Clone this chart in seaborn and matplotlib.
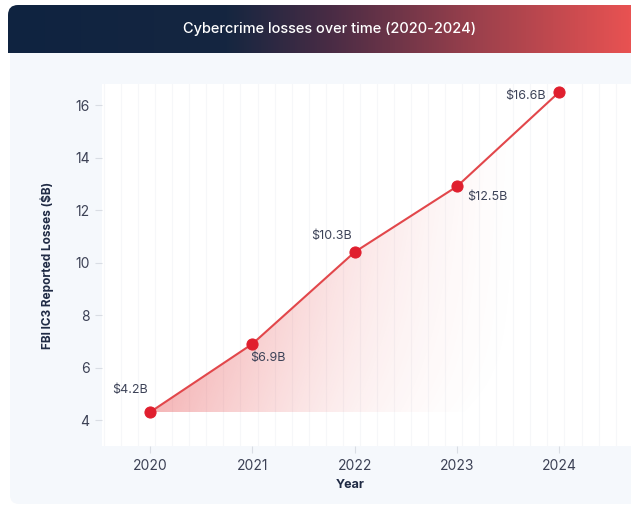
import numpy as np
import pandas as pd
import matplotlib
matplotlib.use("Agg")
import matplotlib.pyplot as plt
import seaborn as sns
from matplotlib.patches import FancyBboxPatch, Polygon
from matplotlib.colors import LinearSegmentedColormap

# ---- data ----
years = [2020, 2021, 2022, 2023, 2024]
losses = [4.3, 6.9, 10.4, 12.9, 16.5]
value_labels = ["$4.2B", "$6.9B", "$10.3B", "$12.5B", "$16.6B"]
yticks = [4, 6, 8, 10, 12, 14, 16]
title = "Cybercrime losses over time (2020-2024)"
xlabel = "Year"
ylabel = "FBI IC3 Reported Losses ($B)"

sns.set_theme(style="white")
plt.rcParams["font.family"] = ["Inter", "DejaVu Sans"]

W, H = 631, 507
fig = plt.figure(figsize=(W / 100, H / 100), dpi=100)
fig.patch.set_facecolor("white")

# background layer in pixel coordinates
bg = fig.add_axes([0, 0, 1, 1], zorder=0)
bg.set_xlim(0, W)
bg.set_ylim(H, 0)
bg.axis("off")
panel = FancyBboxPatch((10, 5), 700, 499, boxstyle="round,pad=0,rounding_size=9",
                       fc="#f5f8fc", ec="none")
bg.add_patch(panel)
clip = FancyBboxPatch((8, 5), 700, 80, boxstyle="round,pad=0,rounding_size=10",
                      fc="none", ec="none")
bg.add_patch(clip)
bcmap = LinearSegmentedColormap.from_list(
    "banner", [(0, "#0f2340"), (0.35, "#152640"), (0.52, "#4a2c45"),
               (0.75, "#9a404c"), (1, "#e85252")])
grad = np.linspace(0, 1, 512).reshape(1, -1)
im = bg.imshow(grad, cmap=bcmap, extent=(8, W, 53, 5), aspect="auto", zorder=1)
im.set_clip_path(clip)
bg.text(330, 29, title, color="white", fontsize=10.5, fontweight="medium",
        ha="center", va="center", zorder=2)

# main plot
left, right, top, bottom = 102, 631, 84, 446
ax = fig.add_axes([left / W, (H - bottom) / H, (right - left) / W, (bottom - top) / H], zorder=1)
ax.set_facecolor("white")
xlim = (2019.53, 2024.70)
ylim = (3.01, 16.8)
ax.set_xlim(*xlim)
ax.set_ylim(*ylim)

# faint vertical grid
ax.set_xticks(np.arange(2019.55, 2024.75, 1 / 6), minor=True)
ax.grid(axis="x", which="minor", color="#f6f7f9", linewidth=0.8)
ax.tick_params(axis="x", which="minor", length=0)

# gradient fill under the line
gx = np.linspace(years[0], years[-1], 400)
gy = np.linspace(losses[0], max(losses), 400)
GX, GY = np.meshgrid(gx, gy)
LY = np.interp(GX, years, losses)
fx = np.clip(1 - (GX - years[0]) / 3.7, 0, 1) ** 1.4
fy = np.clip(1 - (LY - GY) / 9.0, 0, 1) ** 0.5
alpha = 0.40 * fx * fy
rgba = np.zeros(GX.shape + (4,))
rgba[..., 0] = 0xe5 / 255
rgba[..., 1] = 0x45 / 255
rgba[..., 2] = 0x48 / 255
rgba[..., 3] = alpha
fim = ax.imshow(rgba, extent=(years[0], years[-1], losses[0], max(losses)),
                origin="lower", aspect="auto", zorder=1, interpolation="bilinear")
poly = Polygon(list(zip(years, losses)) + [(years[-1], losses[0]), (years[0], losses[0])],
               closed=True, fc="none", ec="none", transform=ax.transData)
ax.add_patch(poly)
fim.set_clip_path(poly)
ax.set_xlim(*xlim)
ax.set_ylim(*ylim)

df = pd.DataFrame({"Year": years, "Loss": losses})
sns.lineplot(data=df, x="Year", y="Loss", ax=ax, color="#e2474b", linewidth=1.5,
             marker="o", markersize=8, markerfacecolor="#e01f2e",
             markeredgecolor="#e01f2e", zorder=3)

offsets = [(-20, 22), (16, -14), (-23, 16), (30, -11), (-34, -4)]
for xv, yv, lab, off in zip(years, losses, value_labels, offsets):
    ax.annotate(lab, (xv, yv), xytext=off, textcoords="offset pixels",
                ha="center", va="center", fontsize=9, color="#3d4358", zorder=4)

ax.set_xticks(years)
ax.set_xticklabels([str(y) for y in years])
ax.set_yticks(yticks)
ax.set_yticklabels([str(v) for v in yticks])
ax.tick_params(axis="both", which="major", length=5, width=0.8, color="#d9dde4",
               labelcolor="#3c4155", labelsize=10, pad=4)
ax.tick_params(axis="x", which="major", bottom=True)
ax.tick_params(axis="y", which="major", left=True)
for s in ax.spines.values():
    s.set_visible(False)

ax.set_xlabel(xlabel, fontsize=9, fontweight="bold", color="#1f2a44")
ax.set_ylabel(ylabel, fontsize=8.5, fontweight="bold", color="#1f2a44")
ax.xaxis.set_label_coords((350 - left) / (right - left), (bottom - 479) / (bottom - top))
ax.yaxis.set_label_coords((54 - left) / (right - left), 0.5)

fig.savefig("out.png", dpi=100)
